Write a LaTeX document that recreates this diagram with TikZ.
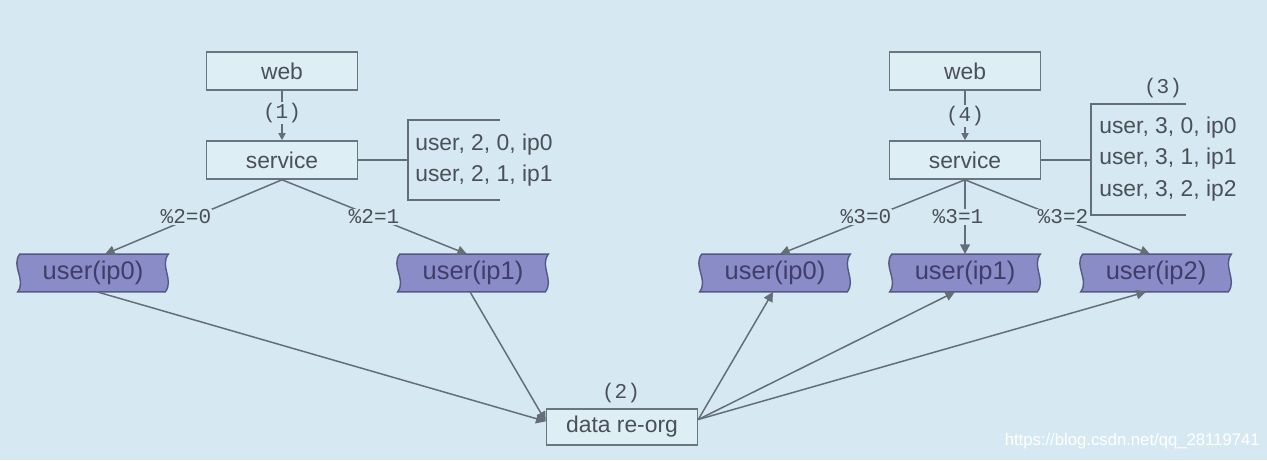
\documentclass[tikz,border=0pt]{standalone}
\usepackage{fontspec}
\setmainfont{Liberation Sans}
\newfontfamily\monof{Liberation Mono}
\usetikzlibrary{arrows.meta,calc}
\definecolor{bg}{RGB}{214,233,243}
\definecolor{boxfill}{RGB}{222,238,245}
\definecolor{boxline}{RGB}{105,118,128}
\definecolor{txt}{RGB}{75,80,88}
\definecolor{tapefill}{RGB}{138,140,200}
\definecolor{tapeline}{RGB}{85,88,130}
\definecolor{tapetxt}{RGB}{62,62,105}
\definecolor{edgecol}{RGB}{100,110,120}
\tikzset{
  box/.style={draw=boxline, line width=0.9pt, fill=boxfill, minimum width=3.02cm, minimum height=0.76cm, inner sep=0pt, font=\fontsize{13}{15}\selectfont, text=txt},
  usernode/.style={minimum width=3.0cm, minimum height=0.74cm, inner sep=0pt, font=\fontsize{14.5}{16}\selectfont, text=tapetxt},
  edge/.style={draw=edgecol, line width=0.85pt, -{Triangle[length=5.5pt,width=5.5pt]}},
  plain/.style={draw=edgecol, line width=0.85pt},
  elabel/.style={fill=bg, inner sep=0.5pt, font=\monof\fontsize{12}{13}\selectfont, text=txt},
  numlabel/.style={inner sep=0.5pt, font=\monof\fontsize{12}{13}\selectfont, text=txt},
  bracktext/.style={align=left, inner sep=0pt, font=\fontsize{13}{18}\selectfont, text=txt, anchor=west},
}
\newcommand{\tapeoutline}[1]{%
  \path[fill=tapefill, draw=tapeline, line width=0.8pt]
    ($(#1.north west)+(2,0)$) .. controls +(-9,12) and +(9,-12) .. ($(#1.south west)+(0,0)$)
    -- ($(#1.south east)+(-3,0)$) .. controls +(9,-12) and +(-9,12) .. ($(#1.north east)+(0,0)$) -- cycle;
}
\begin{document}
\begin{tikzpicture}[x=0.02cm,y=-0.02cm]
\fill[bg] (0,0) rectangle (1267,460);
\useasboundingbox (0,0) rectangle (1267,460);

% left part
\node[box] (web1) at (282,71) {web};
\node[box] (srv1) at (282,160) {service};
\node[usernode] (u10) at (93,273) {};
\node[usernode] (u11) at (473,273) {};
\tapeoutline{u10}
\tapeoutline{u11}
\node[usernode] at (u10) {user(ip0)};
\node[usernode] at (u11) {user(ip1)};

\draw[plain, -{Triangle[length=4pt,width=4pt]}] (web1.south) -- (srv1.north);
\node[numlabel, fill=bg] (n1) at (282,113) {(1)};

\coordinate (b1m) at (408,160);
\coordinate (b1t) at (408,120);
\coordinate (b1b) at (408,200);
\coordinate (b1te) at (500,120);
\coordinate (b1be) at (500,200);
\draw[plain] (srv1.east) -- (b1m);
\draw[plain] (b1te) -- (b1t) -- (b1b) -- (b1be);
\node[bracktext] (t1) at (415,160) {user, 2, 0, ip0\\user, 2, 1, ip1};

\draw[edge] (srv1.south) -- (u10.north -| 105,0);
\draw[edge] (srv1.south) -- (u11.north -| 467,0);
\node[elabel] (l20) at (186,217) {\%2=0};
\node[elabel] (l21) at (374,217) {\%2=1};

% right part
\node[box] (web2) at (965,71) {web};
\node[box] (srv2) at (965,160) {service};
\node[usernode] (u20) at (775,273) {};
\node[usernode] (u21) at (965,273) {};
\node[usernode] (u22) at (1156,273) {};
\tapeoutline{u20}
\tapeoutline{u21}
\tapeoutline{u22}
\node[usernode] at (u20) {user(ip0)};
\node[usernode] at (u21) {user(ip1)};
\node[usernode] at (u22) {user(ip2)};

\draw[plain, -{Triangle[length=4pt,width=4pt]}] (web2.south) -- (srv2.north);
\node[numlabel, fill=bg] (n4) at (965,116) {(4)};

\coordinate (b2m) at (1091,160);
\coordinate (b2t) at (1091,104);
\coordinate (b2b) at (1091,215);
\coordinate (b2te) at (1186,104);
\coordinate (b2be) at (1186,215);
\draw[plain] (srv2.east) -- (b2m);
\draw[plain] (b2te) -- (b2t) -- (b2b) -- (b2be);
\node[numlabel] (n3) at (1163,88) {(3)};
\node[bracktext] (t2) at (1099,159) {user, 3, 0, ip0\\user, 3, 1, ip1\\user, 3, 2, ip2};

\draw[edge] (srv2.south) -- (u20.north -| 780,0);
\draw[edge] (srv2.south) -- (u21.north);
\draw[edge] (srv2.south) -- (u22.north -| 1150,0);
\node[elabel] (l30) at (866,217) {\%3=0};
\node[elabel] (l31) at (958,217) {\%3=1};
\node[elabel] (l32) at (1063,217) {\%3=2};

% data re-org
\node[box, minimum height=0.72cm] (dr) at (622,427) {data re-org};
\node[numlabel] (n2) at (621,393) {(2)};
\coordinate (drin) at ($(dr.north west)!0.35!(dr.south west)$);
\coordinate (drout) at ($(dr.north east)!0.3!(dr.south east)$);
\draw[edge] (u10.south -| 97,0) -- (drin);
\draw[edge] (u11.south -| 470,0) -- (drin);
\draw[edge] (drout) -- (u20.south -| 773,0);
\draw[edge] (drout) -- (u21.south -| 955,0);
\draw[edge] (drout) -- (u22.south -| 1146,0);

\node[anchor=east, text=white, font=\fontsize{9.5}{10}\selectfont, inner sep=0pt] (wm) at (1260,441) {https://blog.csdn.net/qq\_28119741};
\end{tikzpicture}
\end{document}
